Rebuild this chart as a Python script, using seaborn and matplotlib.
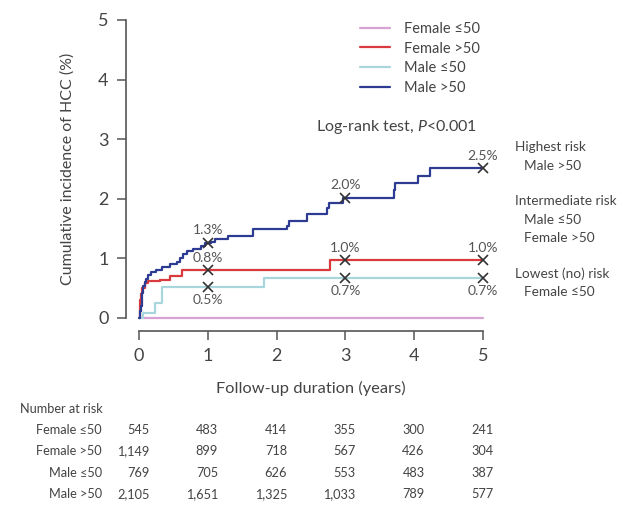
import numpy as np
import pandas as pd
import matplotlib
matplotlib.use("Agg")
import matplotlib.pyplot as plt
import matplotlib.transforms as mtransforms
import seaborn as sns

# Kaplan-Meier style cumulative incidence (%)
groups = ["Female ≤50", "Female >50", "Male ≤50", "Male >50"]
colors = ["#d8a3d4", "#d83a3e", "#a9d6dd", "#2d3b92"]

f_le50_t = [0.0, 5.0]
f_le50_v = [0.0, 0.0]

f_gt50_t = [0.0, 0.01, 0.02, 0.03, 0.05, 0.09, 0.13, 0.3, 0.45, 0.62, 2.78, 5.0]
f_gt50_v = [0.0, 0.13, 0.3, 0.41, 0.5, 0.58, 0.62, 0.64, 0.7, 0.8, 0.97, 0.97]

m_le50_t = [0.0, 0.06, 0.23, 0.33, 1.81, 5.0]
m_le50_v = [0.0, 0.09, 0.25, 0.52, 0.67, 0.67]

m_gt50_t = [0.0, 0.01, 0.02, 0.03, 0.04, 0.05, 0.06, 0.08, 0.1, 0.13, 0.18, 0.25,
            0.33, 0.45, 0.55, 0.6, 0.64, 0.7, 0.78, 0.9, 0.96, 1.05, 1.1, 1.3,
            1.66, 2.15, 2.18, 2.44, 2.73, 2.76, 2.97, 3.70, 3.72, 4.06, 4.23, 5.0]
m_gt50_v = [0.0, 0.05, 0.12, 0.2, 0.3, 0.42, 0.53, 0.6, 0.66, 0.72, 0.77, 0.8,
            0.85, 0.9, 0.94, 1.0, 1.07, 1.12, 1.15, 1.2, 1.26, 1.28, 1.32, 1.38,
            1.5, 1.55, 1.62, 1.75, 1.85, 1.93, 2.02, 2.14, 2.26, 2.38, 2.51, 2.51]

mark_times = [1, 3, 5]
# label side for each group: +1 above, -1 below, 0 none
label_side = [0, 1, -1, 1]

# numbers at risk
risk_times = [0, 1, 2, 3, 4, 5]
risk_f_le50 = ["545", "483", "414", "355", "300", "241"]
risk_f_gt50 = ["1,149", "899", "718", "567", "426", "304"]
risk_m_le50 = ["769", "705", "626", "553", "483", "387"]
risk_m_gt50 = ["2,105", "1,651", "1,325", "1,033", "789", "577"]

risk_groups = [
    ("Female ≤50", risk_f_le50),
    ("Female >50", risk_f_gt50),
    ("Male ≤50", risk_m_le50),
    ("Male >50", risk_m_gt50),
]

curves = [(f_le50_t, f_le50_v), (f_gt50_t, f_gt50_v),
          (m_le50_t, m_le50_v), (m_gt50_t, m_gt50_v)]

rows = []
for g, (t, v) in zip(groups, curves):
    for ti, vi in zip(t, v):
        rows.append({"group": g, "time": ti, "inc": vi})
df = pd.DataFrame(rows)

sns.set_theme(style="ticks")
plt.rcParams["font.family"] = ["Lato", "DejaVu Sans"]
plt.rcParams["mathtext.fontset"] = "custom"
plt.rcParams["mathtext.rm"] = "Lato"
plt.rcParams["mathtext.it"] = "Lato:italic"

TXT = "#444444"
SPINE = "#555555"

fig = plt.figure(figsize=(6.28, 5.29), dpi=100)
W, H = 628, 529
ax = fig.add_axes([139 / W, (H - 318) / H, 344 / W, 298 / H])

sns.lineplot(data=df, x="time", y="inc", hue="group", hue_order=groups,
             palette=colors, drawstyle="steps-post", estimator=None,
             linewidth=1.6, ax=ax, clip_on=False)

ax.set_xlim(0, 5)
ax.set_ylim(0, 5)
ax.set_xticks(range(6))
ax.set_yticks(range(6))
sns.despine(ax=ax)
for s in ["left", "bottom"]:
    ax.spines[s].set_position(("outward", 9.4))
    ax.spines[s].set_color(SPINE)
    ax.spines[s].set_linewidth(1.2)
ax.tick_params(axis="both", length=6.5, width=1.1, color=SPINE,
               labelsize=13, labelcolor=TXT, pad=6)
ax.set_xlabel("Follow-up duration (years)", fontsize=11.8, color=TXT, labelpad=12)
ax.set_ylabel("Cumulative incidence of HCC (%)", fontsize=11.5, color=TXT, labelpad=17)

# markers and percent labels
for g, (t, v), side in zip(groups, curves, label_side):
    if side == 0:
        continue
    t = np.asarray(t)
    v = np.asarray(v)
    for mt in mark_times:
        idx = np.searchsorted(t, mt, side="right") - 1
        val = v[idx]
        ax.plot(mt, val, marker="x", color="#333333", markersize=6.5,
                markeredgewidth=1.2, clip_on=False, zorder=5)
        ax.annotate(f"{val:.1f}%", (mt, val), xytext=(0, 9 * side),
                    textcoords="offset points", ha="center", va="center",
                    fontsize=10, color="#555555")

sns.move_legend(ax, "upper left", bbox_to_anchor=(360 / W, (H - 22) / H),
                bbox_transform=fig.transFigure, title=None, frameon=False,
                fontsize=10.5, handlelength=2.05, handletextpad=1.0,
                labelspacing=0.38, borderpad=0, borderaxespad=0)
for txt in ax.get_legend().get_texts():
    txt.set_color(TXT)

fig.text(316 / W, (H - 127) / H, "Log-rank test, $\\mathit{P}$<0.001",
         fontsize=11.5, color=TXT, ha="left", va="center")

notes = [
    (515, 147, "Highest risk"),
    (524, 166, "Male >50"),
    (515, 201, "Intermediate risk"),
    (524, 220, "Male ≤50"),
    (524, 238, "Female >50"),
    (515, 274, "Lowest (no) risk"),
    (524, 292, "Female ≤50"),
]
for x, y, s in notes:
    fig.text(x / W, (H - y) / H, s, fontsize=9.8, color=TXT,
             ha="left", va="center")

# number-at-risk table, columns tied to the x scale
trans = mtransforms.blended_transform_factory(ax.transData, fig.transFigure)
fig.text(20 / W, (H - 409) / H, "Number at risk", fontsize=9.2, color=TXT,
         ha="left", va="center")
for i, (name, vals) in enumerate(risk_groups):
    y = (H - (430 + 21.3 * i)) / H
    fig.text(102 / W, y, name, fontsize=9.2, color=TXT, ha="right", va="center")
    for t, s in zip(risk_times, vals):
        ax.text(t + 0.15, y, s, transform=trans, fontsize=9.2, color=TXT,
                ha="right", va="center")

fig.savefig("out.png", dpi=100)
